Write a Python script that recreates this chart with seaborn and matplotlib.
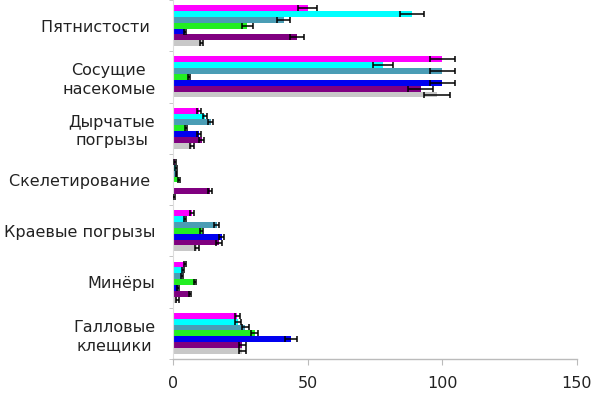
import matplotlib
matplotlib.use("Agg")
import matplotlib.pyplot as plt
from matplotlib.container import BarContainer
import seaborn as sns
import pandas as pd
import numpy as np

categories = ["Пятнистости ", "Сосущие\nнасекомые", "Дырчатые\nпогрызы",
              "Скелетирование ", "Краевые погрызы", "Минёры", "Галловые\nклещики"]
series = ["1", "2", "3", "4", "5", "6", "7"]
colors = ["#FF00FF", "#00FFFF", "#4A9DB5", "#22EE22", "#0000F0", "#800080", "#C8C8C8"]

# values per series (one list per series, in category order)
s1 = [50, 100, 9.5, 0.5, 6.8, 4.3, 23.8]
s2 = [88.7, 78, 11.8, 1.0, 4.3, 3.6, 24.0]
s3 = [41, 100, 13.8, 1.2, 16.1, 3.2, 26.8]
s4 = [27.5, 5.8, 4.7, 2.0, 10.5, 8.0, 30.2]
s5 = [4.3, 100, 9.5, 0.1, 18.0, 1.8, 43.8]
s6 = [46, 92, 10.5, 13.6, 17.0, 6.2, 25.7]
s7 = [10.5, 98, 6.8, 0.3, 8.8, 1.5, 25.7]

e1 = [3.5, 4.7, 0.9, 0.3, 0.7, 0.5, 1.0]
e2 = [4.5, 3.8, 0.8, 0.3, 0.5, 0.4, 1.0]
e3 = [2.5, 4.7, 1.0, 0.3, 1.0, 0.4, 1.4]
e4 = [2.0, 0.5, 0.3, 0.3, 0.5, 0.5, 1.4]
e5 = [0.5, 4.7, 0.8, 0.0, 1.0, 0.3, 2.3]
e6 = [2.5, 4.6, 1.0, 0.7, 1.0, 0.5, 1.3]
e7 = [0.5, 4.7, 0.8, 0.3, 0.7, 0.5, 1.3]

vals = [s1, s2, s3, s4, s5, s6, s7]
errs = [e1, e2, e3, e4, e5, e6, e7]

rows = []
for si, (v, e) in enumerate(zip(vals, errs)):
    for ci, c in enumerate(categories):
        rows.append({"cat": c, "series": series[si], "value": v[ci], "err": e[ci]})
df = pd.DataFrame(rows)

sns.set_style("white")
plt.rcParams["font.family"] = ["DejaVu Sans"]

fig = plt.figure(figsize=(5.91, 3.93), dpi=100)
ax = fig.add_axes([173.4 / 591, 1 - 359 / 393, (576.7 - 173.4) / 591, 359 / 393])

sns.barplot(data=df, x="value", y="cat", hue="series", orient="h",
            palette=colors, width=0.8, errorbar=None, saturation=1,
            linewidth=0, ax=ax, order=categories, hue_order=series)

bar_containers = [c for c in ax.containers if isinstance(c, BarContainer)]
# error bars from bar patches
for si, cont in enumerate(bar_containers):
    for ci, bar in enumerate(cont.patches):
        if bar is None:
            continue
        yc = bar.get_y() + bar.get_height() / 2
        xv = bar.get_width()
        err = errs[si][ci]
        if err > 0:
            ax.errorbar(xv, yc, xerr=err, fmt="none", ecolor="black",
                        elinewidth=1.1, capsize=2.3, capthick=1.1, zorder=5)

if ax.get_legend() is not None:
    ax.get_legend().remove()

ax.set_xlim(0, 150)
ax.set_xticks([0, 50, 100, 150])
ax.set_ylim(6.5, -0.413)
ax.set_xlabel("")
ax.set_ylabel("")

for s in ["top", "right"]:
    ax.spines[s].set_visible(False)
ax.spines["bottom"].set_color("#BBBBBB")
ax.spines["left"].set_color("#DDDDDD")
ax.spines["bottom"].set_linewidth(1.0)
ax.spines["left"].set_linewidth(0.8)

ax.tick_params(axis="x", which="major", length=4, color="#BBBBBB", labelsize=11.5,
               pad=8, labelcolor="#222222", direction="out", bottom=True)
ax.tick_params(axis="y", which="major", length=0, pad=13, labelsize=11.5,
               labelcolor="#222222")
ax.set_yticks(np.arange(-0.5, 7.0, 1.0), minor=True)
ax.tick_params(axis="y", which="minor", length=3, color="#BBBBBB", left=True)
for lab in ax.get_yticklabels():
    lab.set_multialignment("center")
    lab.set_linespacing(1.3)

fig.savefig("out.png", dpi=100)
